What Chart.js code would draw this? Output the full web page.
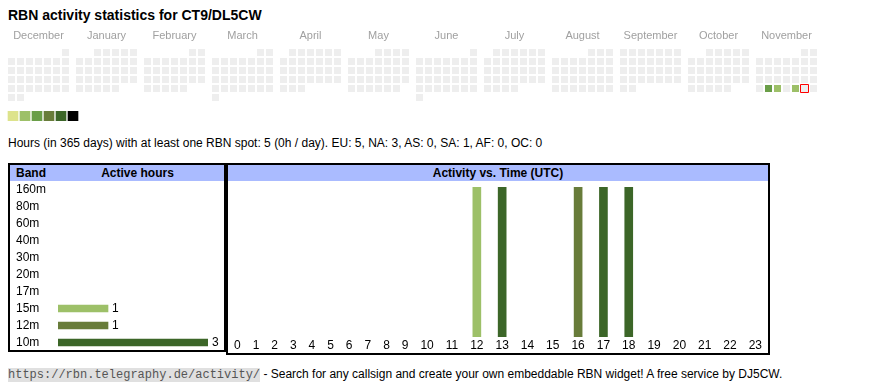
<!DOCTYPE html>
<html>
<head>
<meta charset="utf-8">
<script src="https://cdn.jsdelivr.net/npm/chart.js@4.4.1/dist/chart.umd.min.js"></script>
<style>
html,body{margin:0;padding:0;background:#fff;}
body{width:870px;height:390px;position:relative;overflow:hidden;font-family:"Liberation Sans",Arial,sans-serif;color:#000;}
#title{position:absolute;left:8px;top:7px;font-size:14px;font-weight:bold;line-height:16px;white-space:nowrap;}
#stats{position:absolute;left:8px;top:136px;font-size:12px;line-height:14px;white-space:nowrap;}
.box{position:absolute;border:2px solid #000;box-sizing:border-box;}
#leftBox{left:8px;top:163px;width:218px;height:189px;}
#rightBox{left:226px;top:163px;width:544px;height:192px;}
.hdr{position:absolute;left:0;top:0;right:0;height:16px;background:#aabbff;font-weight:bold;font-size:12px;line-height:16px;white-space:nowrap;}
.hdr span{position:absolute;top:0;}
canvas{position:absolute;}
#footer{position:absolute;left:8px;top:367px;font-size:12px;line-height:15px;white-space:nowrap;}
#footer code{font-family:"Liberation Mono","Courier New",monospace;font-size:12px;background:#e0e0e0;color:#555;}
</style>
</head>
<body>
<div id="title">RBN activity statistics for CT9/DL5CW</div>
<canvas id="cal" width="870" height="84" style="left:0;top:24px;"></canvas>
<canvas id="leg" width="72" height="10" style="left:7px;top:111px;"></canvas>
<div id="stats">Hours (in 365 days) with at least one RBN spot: 5 (0h / day). EU: 5, NA: 3, AS: 0, SA: 1, AF: 0, OC: 0</div>
<div class="box" id="leftBox"><div class="hdr"><span style="left:6px;">Band</span><span style="left:47px;width:161px;text-align:center;">Active hours</span></div></div>
<div class="box" id="rightBox"><div class="hdr" style="text-align:center;">Activity vs. Time (UTC)</div></div>
<canvas id="bands" width="214" height="170" style="left:10px;top:181px;"></canvas>
<canvas id="hours" width="540" height="172" style="left:228px;top:181px;"></canvas>
<div id="footer"><code>https://rbn.telegraphy.de/activity/</code> - Search for any callsign and create your own embeddable RBN widget! A free service by DJ5CW.</div>
<script>
// ---------- DATA ----------
const monthLabels = ['December','January','February','March','April','May','June','July','August','September','October','November'];
const firstYear = 2024;
const firstMonth = 11; // December (0-based)
const todayDate = '2025-11-29';
const activeDays = ['2025-11-25','2025-11-26','2025-11-28'];
const activeDayLevels = [3, 2, 2];
const levelLabels = ['1','2','3','4','5','6'];
const levelValues = [1, 1, 1, 1, 1, 1];

const bands = ['160m','80m','60m','40m','30m','20m','17m','15m','12m','10m'];
const bandHours = [0, 0, 0, 0, 0, 0, 0, 1, 1, 3];

const hourLabels = ['0','1','2','3','4','5','6','7','8','9','10','11','12','13','14','15','16','17','18','19','20','21','22','23'];
const activeHours = [12, 13, 16, 17, 18];
const activeHourBands = ['15m','10m','12m','10m','10m'];

// ---------- STYLE ----------
const LEVEL_COLORS = ['#eeeeee','#dde38c','#9dc068','#6a9e48','#687c3a','#3c6628','#000000'];
const BAND_COLORS = {'160m':'#cccccc','80m':'#cccccc','60m':'#cccccc','40m':'#cccccc','30m':'#cccccc','20m':'#cccccc','17m':'#cccccc','15m':'#9dc068','12m':'#687c3a','10m':'#3c6628'};
const CELL = 7, CELL_PITCH = 9, MONTH_PITCH = 68;
const FONT = '"Liberation Sans", Arial, sans-serif';
Chart.defaults.font.family = FONT;
Chart.defaults.animation = false;
Chart.defaults.plugins.legend.display = false;
Chart.defaults.plugins.tooltip.enabled = false;
Chart.defaults.events = [];
const noPad = s => { s.paddingLeft = 0; s.paddingRight = 0; s.paddingTop = 0; s.paddingBottom = 0; };

// ---------- CALENDAR ----------
const cellPts = [], cellColors = [];
let todayPt = null;
for (let m = 0; m < monthLabels.length; m++) {
  const yr = firstYear + Math.floor((firstMonth + m) / 12);
  const mo = (firstMonth + m) % 12;
  const firstCol = (new Date(Date.UTC(yr, mo, 1)).getUTCDay() + 6) % 7;
  const nDays = new Date(Date.UTC(yr, mo + 1, 0)).getUTCDate();
  for (let d = 1; d <= nDays; d++) {
    const idx = firstCol + d - 1;
    const pt = {x: m * MONTH_PITCH + (idx % 7) * CELL_PITCH, y: Math.floor(idx / 7) * CELL_PITCH};
    const key = yr + '-' + String(mo + 1).padStart(2, '0') + '-' + String(d).padStart(2, '0');
    const ai = activeDays.indexOf(key);
    cellPts.push(pt);
    cellColors.push(ai >= 0 ? LEVEL_COLORS[activeDayLevels[ai]] : LEVEL_COLORS[0]);
    if (key === todayDate) todayPt = pt;
  }
}
const calW = 870, calAreaH = 64;
const monthCenters = monthLabels.map((_, m) => m * MONTH_PITCH + 3 * CELL_PITCH);
new Chart(document.getElementById('cal'), {
  type: 'scatter',
  data: {datasets: [
    {data: todayPt ? [todayPt] : [], pointStyle: 'rect', pointRadius: 8 / Math.SQRT2, backgroundColor: LEVEL_COLORS[0], borderColor: '#ff0000', borderWidth: 1},
    {data: cellPts, pointStyle: 'rect', pointRadius: CELL / Math.SQRT2, backgroundColor: cellColors, borderWidth: 0}
  ]},
  options: {
    responsive: false, layout: {padding: 0, autoPadding: false},
    scales: {
      x: {type: 'linear', position: 'top', min: -11.5, max: calW - 11.5,
          grid: {display: false, drawTicks: false}, border: {display: false},
          afterBuildTicks: s => { s.ticks = monthCenters.map(v => ({value: v})); },
          afterFit: s => { s.height = 20; noPad(s); },
          ticks: {autoSkip: false, maxRotation: 0, padding: 1, color: '#a0a0a0', font: {size: 11}, callback: (v, i) => monthLabels[i]}},
      y: {type: 'linear', display: false, reverse: true, min: -8.5, max: calAreaH - 8.5}
    }
  }
});

// ---------- LEVEL LEGEND ----------
new Chart(document.getElementById('leg'), {
  type: 'bar',
  data: {labels: levelLabels, datasets: [{data: levelValues, backgroundColor: LEVEL_COLORS.slice(1), barThickness: 10, borderWidth: 0}]},
  options: {responsive: false, layout: {padding: 0, autoPadding: false},
    scales: {x: {display: false}, y: {display: false, min: 0, max: 1}}}
});

// ---------- BAND CHART ----------
const valueLabels = {
  id: 'valueLabels',
  afterDatasetsDraw(chart) {
    const ctx = chart.ctx;
    const meta = chart.getDatasetMeta(0);
    ctx.save();
    ctx.font = '12px ' + FONT;
    ctx.fillStyle = '#000';
    ctx.textBaseline = 'middle';
    ctx.textAlign = 'left';
    meta.data.forEach((el, i) => {
      const v = chart.data.datasets[0].data[i];
      if (v > 0) ctx.fillText(String(v), el.x + 4, el.y);
    });
    ctx.restore();
  }
};
new Chart(document.getElementById('bands'), {
  type: 'bar',
  data: {labels: bands, datasets: [{data: bandHours,
    backgroundColor: bands.map((b, i) => bandHours[i] > 0 ? BAND_COLORS[b] : 'rgba(0,0,0,0)'),
    barThickness: 7, borderWidth: 0}]},
  options: {
    responsive: false, indexAxis: 'y',
    layout: {padding: {left: 6, right: 16, top: 0, bottom: 0}, autoPadding: false},
    scales: {
      y: {grid: {display: false, drawTicks: false}, border: {display: false},
          afterFit: s => { s.width = 42; noPad(s); },
          ticks: {autoSkip: false, crossAlign: 'far', padding: 0, color: '#000', font: {size: 12}}},
      x: {display: false, min: 0, max: Math.max(...bandHours)}
    }
  },
  plugins: [valueLabels]
});

// ---------- HOUR CHART ----------
const mctx = document.createElement('canvas').getContext('2d');
mctx.font = '12px ' + FONT;
const textW = hourLabels.map(l => mctx.measureText(l).width);
const hourAreaW = 540;
const extra = (hourAreaW - textW.reduce((a, b) => a + b, 0)) / hourLabels.length;
let acc = 0;
const hourCenters = textW.map(w => { const c = acc + (w + extra) / 2; acc += w + extra; return c; });
const hourPts = activeHours.map(h => ({x: hourCenters[hourLabels.indexOf(String(h))], y: 1}));
new Chart(document.getElementById('hours'), {
  type: 'bar',
  data: {datasets: [{data: hourPts, backgroundColor: activeHourBands.map(b => BAND_COLORS[b]), barThickness: 8, borderWidth: 0}]},
  options: {
    responsive: false,
    layout: {padding: {top: 6, left: 0, right: 0, bottom: 0}, autoPadding: false},
    scales: {
      x: {type: 'linear', offset: false, min: 0, max: acc,
          grid: {display: false, drawTicks: false, offset: false}, border: {display: false},
          afterBuildTicks: s => { s.ticks = hourCenters.map(v => ({value: v})); },
          afterFit: s => { s.height = 16; noPad(s); },
          ticks: {autoSkip: false, maxRotation: 0, padding: 1, color: '#000', font: {size: 12}, callback: (v, i) => hourLabels[i]}},
      y: {display: false, min: 0, max: 1}
    }
  }
});
</script>
</body>
</html>
